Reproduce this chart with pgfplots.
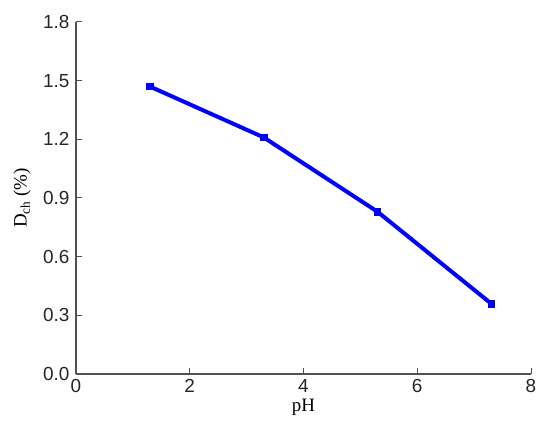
\documentclass[border=0pt]{standalone}
\usepackage{pgfplots}
\pgfplotsset{compat=1.18}
\usepackage{fontspec}
\setmainfont{Liberation Sans}
\newfontfamily\timesf{Liberation Serif}
\definecolor{axgray}{HTML}{505050}
\begin{document}
\begin{tikzpicture}
\begin{axis}[
    scale only axis,
    width=455bp, height=352bp,
    xmin=0, xmax=8, ymin=0, ymax=1.8,
    axis lines*=left,
    axis line style={axgray, line width=1.2bp},
    tick style={axgray, line width=1bp},
    tick align=inside,
    major tick length=6bp,
    xtick={0,2,4,6,8},
    ytick={0,0.3,0.6,0.9,1.2,1.5,1.8},
    /pgf/number format/assume math mode=true,
    tick label style={font=\fontsize{19}{22}\selectfont, text=black!85},
    xticklabel style={yshift=-2bp},
    yticklabel style={xshift=-3bp, /pgf/number format/fixed,
        /pgf/number format/fixed zerofill, /pgf/number format/precision=1},
    xlabel={\timesf pH},
    ylabel={\timesf D\textsubscript{ch} (\%)},
    every axis label/.append style={font=\fontsize{19}{22}\selectfont},
    every axis x label/.style={at={(axis description cs:0.5,0)}, yshift=-33bp, anchor=center},
    every axis y label/.style={at={(axis description cs:0,0.5)}, xshift=-54bp, rotate=90, anchor=center},
    clip=false,
]
\addplot[blue, line width=4bp, mark=square*, mark size=3.2bp,
    mark options={solid, fill=blue, line width=0.5bp}]
    coordinates {(1.3,1.47) (3.3,1.21) (5.3,0.83) (7.3,0.36)};
\end{axis}
\path (current axis.south west) ++(-76bp,-53bp) coordinate (bbA);
\path (current axis.north east) ++(19bp,22bp) coordinate (bbB);
\useasboundingbox (bbA) rectangle (bbB);
\end{tikzpicture}
\end{document}
